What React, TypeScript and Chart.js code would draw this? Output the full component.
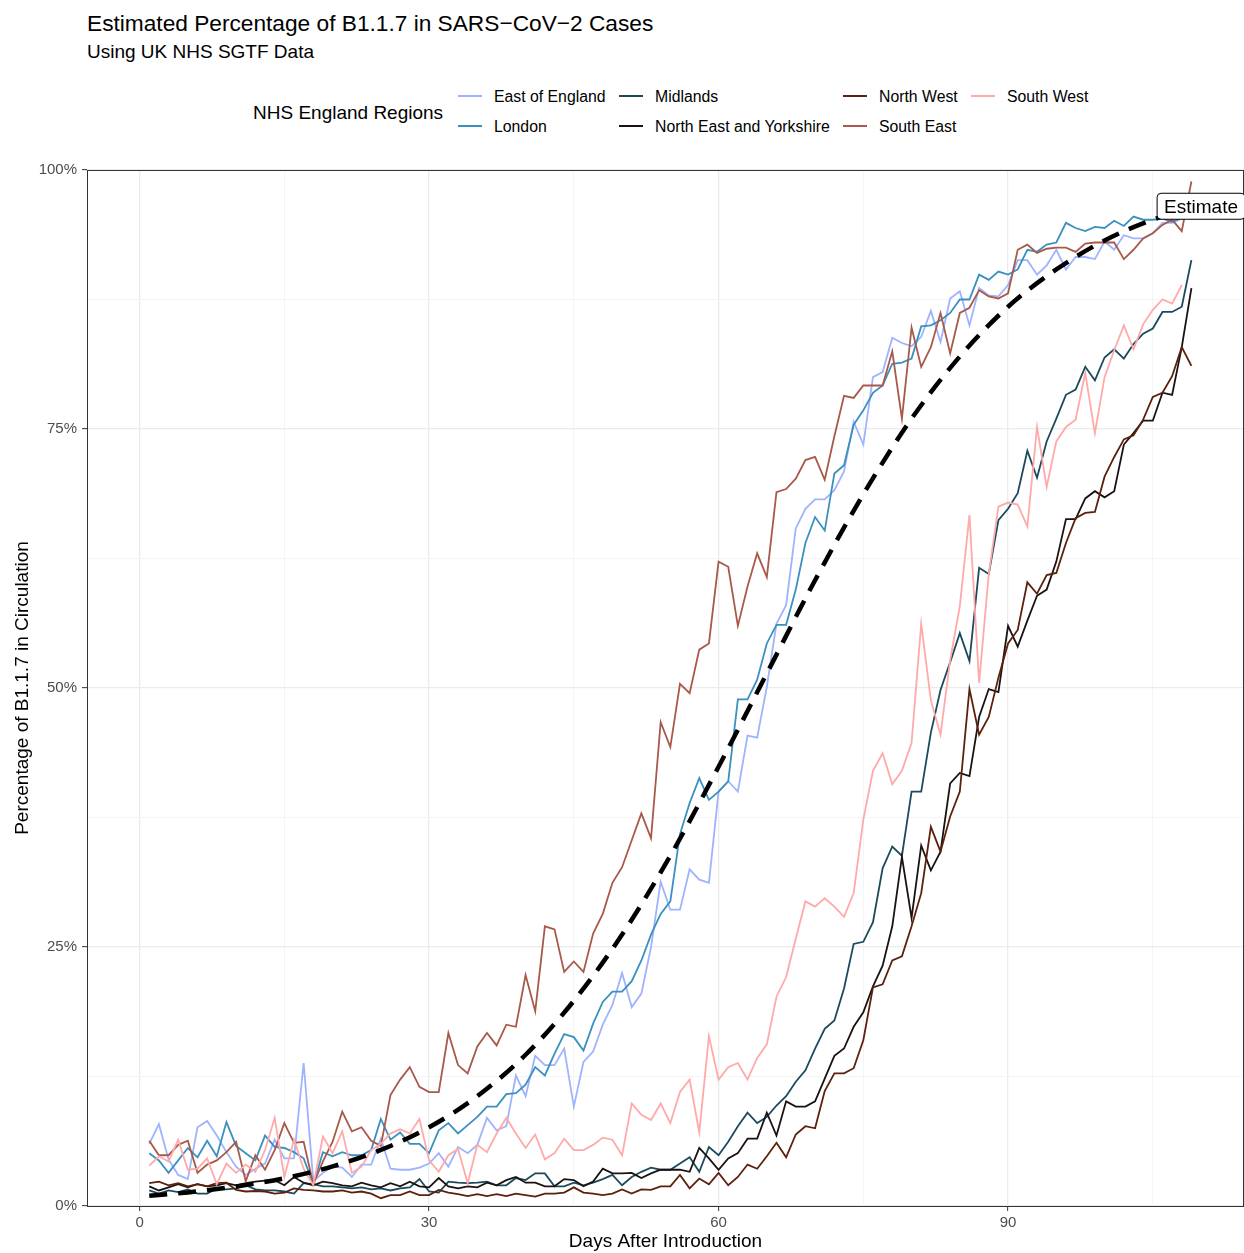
import React, { useEffect, useRef } from 'react';
import { Chart, registerables } from 'chart.js';

Chart.register(...registerables);

const FONT = '"Liberation Sans", Arial, Helvetica, sans-serif';

const titleText = 'Estimated Percentage of B1.1.7 in SARS\u2212CoV\u22122 Cases';
const subtitleText = 'Using UK NHS SGTF Data';
const legendTitle = 'NHS England Regions';
const xTitle = 'Days After Introduction';
const yTitle = 'Percentage of B1.1.7 in Circulation';

const firstDay = 1;
const xMajorTicks = [0, 30, 60, 90];
const xMinorTicks = [15, 45, 75, 105];
const yMajorTicks = [0, 25, 50, 75, 100];
const yMinorTicks = [12.5, 37.5, 62.5, 87.5];

const eastOfEngland = [
  6.0, 7.9, 4.5, 3.0, 2.6, 7.6, 8.2, 6.8, 5.2, 3.8,
  3.0, 3.6, 4.1, 6.4, 4.6, 4.6, 13.8, 2.4, 3.2, 3.8,
  3.7, 2.8, 4.0, 4.0, 6.5, 3.6, 3.5, 3.5, 3.7, 4.1,
  5.1, 3.8, 5.7, 5.1, 5.9, 8.5, 7.3, 7.7, 12.6, 10.6,
  14.5, 13.6, 13.6, 15.2, 9.6, 13.9, 14.9, 17.5, 19.4, 22.5,
  19.2, 20.5, 25.0, 31.3, 28.6, 28.6, 32.5, 31.5, 31.2, 40.0,
  41.0, 40.0, 45.4, 45.2, 50.1, 56.2, 58.0, 65.4, 67.3, 68.2,
  68.2, 69.1, 70.9, 75.7, 73.5, 80.0, 80.5, 83.8, 83.3, 83.0,
  83.9, 86.4, 83.4, 87.6, 88.3, 85.0, 88.6, 87.9, 87.8, 88.9,
  91.3, 91.3, 89.9, 90.8, 92.3, 90.4, 91.6, 91.6, 91.4, 93.1,
  92.3, 93.7, 93.4, 93.4, 93.9, 94.9, 94.9, 95.3,
];

const london = [
  5.1, 4.4, 3.2, 4.4, 5.6, 4.7, 6.3, 4.8, 8.1, 5.8,
  5.1, 4.4, 6.8, 5.7, 5.6, 5.2, 4.6, 2.1, 5.2, 4.8,
  5.2, 4.9, 4.9, 5.4, 8.4, 6.4, 7.1, 6.0, 6.0, 5.1,
  7.3, 8.0, 7.0, 7.8, 8.6, 9.6, 9.6, 10.8, 10.9, 11.7,
  13.4, 12.6, 14.7, 16.6, 16.3, 15.0, 17.6, 19.7, 20.7, 20.7,
  21.7, 23.7, 26.2, 28.2, 29.4, 35.9, 38.9, 41.3, 39.2, 40.0,
  41.0, 48.9, 48.9, 50.8, 54.3, 56.1, 56.1, 59.5, 64.0, 66.5,
  65.2, 70.7, 71.5, 75.4, 76.8, 78.5, 79.2, 81.3, 81.4, 81.8,
  84.9, 85.0, 85.5, 86.2, 87.5, 87.5, 89.9, 89.4, 90.2, 89.9,
  90.4, 92.3, 92.1, 92.8, 93.0, 94.9, 94.4, 94.1, 94.5, 94.4,
  95.1, 94.6, 95.5, 95.2, 95.2, 95.3, 95.0, 95.4,
];

const midlands = [
  1.5, 1.2, 1.5, 1.35, 1.6, 1.2, 1.2, 1.7, 1.6, 1.7,
  2.0, 1.6, 1.5, 1.5, 1.4, 1.2, 2.2, 2.1, 1.9, 1.9,
  1.8, 1.7, 1.8, 1.6, 1.7, 1.5, 1.7, 1.8, 2.6, 1.4,
  1.3, 2.35, 2.25, 2.2, 2.25, 2.35, 2.0, 2.0, 2.7, 2.5,
  3.15, 3.15, 1.9, 1.9, 2.25, 2.0, 2.25, 2.6, 3.0, 2.0,
  2.8, 3.3, 3.7, 3.5, 3.5, 4.1, 4.7, 3.3, 5.7, 4.9,
  6.2, 7.7, 9.0, 8.0, 8.6, 9.7, 10.6, 12.0, 13.1, 15.2,
  17.1, 17.9, 21.0, 25.3, 25.5, 27.4, 32.6, 34.7, 33.8, 40.0,
  40.0, 45.7, 49.8, 52.5, 55.3, 52.6, 61.6, 61.0, 66.2, 67.3,
  68.8, 72.9, 70.3, 73.8, 76.0, 78.3, 78.8, 81.0, 79.7, 81.9,
  82.7, 81.8, 83.2, 84.2, 84.7, 86.3, 86.3, 86.8, 91.3,
];

const northEastYorkshire = [
  1.9, 1.5, 1.8, 2.1, 1.8, 2.1, 1.9, 2.0, 2.2, 2.0,
  2.2, 2.35, 2.45, 2.5, 2.0, 2.8, 2.25, 2.0, 2.35, 2.2,
  2.0, 1.9, 2.25, 2.0, 1.8, 2.2, 1.9, 2.35, 1.9, 1.8,
  2.7, 1.9, 1.7, 1.9, 1.8, 2.25, 2.0, 2.5, 2.8, 2.25,
  2.25, 1.9, 1.9, 2.6, 2.5, 1.9, 2.35, 3.6, 3.15, 3.15,
  3.2, 2.7, 3.15, 3.5, 3.5, 3.5, 3.3, 5.6, 4.6, 3.5,
  4.6, 5.1, 6.5, 6.5, 9.0, 6.8, 10.1, 9.6, 9.6, 10.1,
  12.3, 14.5, 15.2, 17.3, 18.7, 21.2, 23.2, 27.0, 33.7, 27.8,
  34.8, 32.4, 34.2, 40.8, 41.8, 41.5, 47.2, 49.9, 49.6, 56.0,
  54.0, 56.5, 58.9, 59.5, 62.2, 66.3, 66.3, 68.3, 69.0, 68.4,
  69.0, 73.5, 74.6, 75.8, 75.8, 78.5, 78.3, 82.9, 88.6,
];

const northWest = [
  2.2, 2.35, 2.0, 2.2, 1.9, 2.1, 1.9, 2.2, 2.25, 1.55,
  1.4, 1.45, 1.4, 1.2, 1.3, 1.7, 1.55, 1.5, 1.4, 1.4,
  1.5, 1.3, 1.4, 1.2, 0.75, 1.05, 1.05, 1.4, 1.05, 1.05,
  1.55, 1.3, 1.15, 0.95, 1.15, 0.95, 1.15, 0.95, 1.2, 1.05,
  0.9, 1.2, 1.2, 1.3, 1.8, 1.3, 1.2, 1.05, 1.2, 1.6,
  1.2, 1.6, 1.55, 1.9, 1.9, 3.0, 1.7, 2.65, 2.1, 3.2,
  2.0, 2.8, 4.0, 3.6, 4.8, 6.1, 4.7, 6.9, 7.7, 7.5,
  11.1, 12.8, 12.8, 13.3, 16.0, 21.1, 21.4, 23.7, 24.1, 27.0,
  30.2, 36.6, 34.2, 37.6, 40.0, 49.9, 45.5, 47.2, 51.0, 54.3,
  55.6, 60.2, 59.1, 60.9, 61.1, 64.0, 66.4, 66.9, 67.0, 70.4,
  72.3, 74.0, 74.4, 75.9, 78.1, 78.5, 80.1, 82.9, 81.1,
];

const southEast = [
  6.3, 4.9, 4.9, 5.9, 6.3, 3.2, 4.0, 4.4, 5.2, 6.2,
  2.4, 4.9, 3.5, 5.4, 8.0, 6.1, 6.2, 2.1, 4.3, 6.2,
  9.1, 7.2, 7.6, 6.3, 5.8, 10.7, 12.2, 13.4, 11.5, 11.0,
  11.0, 16.7, 13.6, 12.8, 15.4, 16.7, 15.5, 17.5, 17.3, 22.3,
  18.8, 27.0, 26.7, 22.6, 23.6, 22.6, 26.3, 28.2, 31.2, 32.7,
  35.3, 37.9, 35.5, 46.7, 44.3, 50.4, 49.5, 53.7, 54.3, 62.2,
  61.7, 56.0, 59.8, 63.0, 60.7, 68.9, 69.2, 70.2, 72.0, 72.3,
  70.1, 74.3, 78.2, 78.0, 79.2, 79.2, 79.2, 82.5, 76.0, 84.8,
  81.0, 82.9, 86.2, 82.3, 86.2, 86.7, 88.4, 87.8, 87.6, 88.1,
  92.3, 92.8, 92.0, 92.4, 92.5, 92.5, 92.1, 92.9, 93.0, 93.0,
  93.0, 91.4, 92.3, 93.4, 93.9, 94.7, 95.2, 94.1, 98.9,
];

const southWest = [
  3.9, 4.8, 4.3, 6.4, 3.5, 3.6, 4.6, 2.1, 4.1, 3.2,
  4.0, 3.3, 5.4, 8.5, 2.8, 6.4, 3.6, 2.0, 6.7, 5.1,
  7.2, 3.2, 3.8, 5.4, 6.0, 7.0, 7.4, 7.0, 8.4, 4.4,
  3.3, 4.9, 5.5, 2.2, 5.9, 5.2, 7.0, 8.5, 7.0, 5.6,
  6.9, 4.5, 5.1, 6.5, 5.4, 5.4, 5.9, 6.6, 6.4, 4.9,
  9.9, 8.8, 8.3, 9.9, 8.0, 11.0, 12.2, 7.1, 16.4, 12.2,
  13.4, 13.8, 12.2, 14.3, 15.6, 20.2, 22.1, 25.8, 29.4, 28.9,
  29.7, 28.9, 27.9, 30.2, 37.3, 42.0, 43.7, 40.7, 42.0, 44.7,
  56.2, 48.8, 45.5, 52.7, 57.9, 66.7, 50.5, 61.0, 67.5, 67.9,
  67.7, 65.6, 75.2, 69.4, 73.8, 75.2, 75.9, 80.4, 74.6, 80.0,
  82.6, 85.0, 82.7, 85.1, 86.5, 87.5, 87.1, 88.9,
];

const estimateDays = [1, 5, 10, 15, 20, 25, 30, 35, 40, 45, 50, 55, 60, 65, 70, 75, 80, 85, 90, 95, 100, 105, 109];
const estimateValues = [0.98, 1.31, 1.88, 2.68, 3.82, 5.41, 7.6, 10.6, 14.6, 19.8, 26.2, 33.8, 42.4, 51.4, 60.4, 68.7, 76.0, 82.0, 86.8, 90.4, 93.2, 95.2, 96.3];
const estimateLabel = 'Estimate';
const estimateLabelDay = 110;
const estimateLabelValue = 96.5;

const regionNames = [
  'East of England',
  'London',
  'Midlands',
  'North East and Yorkshire',
  'North West',
  'South East',
  'South West',
];
const regionColors = ['#9FB3FF', '#3A90BF', '#1C4A5D', '#1C1212', '#5C210C', '#A8594A', '#FFA9A9'];
const regionSeries = [eastOfEngland, london, midlands, northEastYorkshire, northWest, southEast, southWest];

// legend layout: columns (filled by column, two rows)
const legendCols = [
  { keyX: 458, textX: 494 },
  { keyX: 619, textX: 655 },
  { keyX: 843, textX: 879 },
  { keyX: 971, textX: 1007 },
];
const legendRows = [97, 127];

const frameAndLabelPlugin = {
  id: 'frameAndLabel',
  afterDatasetsDraw(chart: any) {
    const { ctx, chartArea, scales } = chart;
    ctx.save();
    ctx.strokeStyle = '#333333';
    ctx.lineWidth = 1;
    ctx.strokeRect(chartArea.left + 0.5, chartArea.top + 0.5, chartArea.right - chartArea.left - 1, chartArea.bottom - chartArea.top);
    // Estimate label
    const cx = scales.x.getPixelForValue(estimateLabelDay);
    const cy = scales.y.getPixelForValue(estimateLabelValue);
    ctx.font = `19px ${FONT}`;
    const tw = ctx.measureText(estimateLabel).width;
    const padX = 7;
    const h = 26;
    const w = tw + padX * 2;
    const left = cx - w / 2;
    const top = cy - h / 2;
    const r = 4;
    ctx.beginPath();
    ctx.moveTo(left + r, top);
    ctx.lineTo(left + w - r, top);
    ctx.quadraticCurveTo(left + w, top, left + w, top + r);
    ctx.lineTo(left + w, top + h - r);
    ctx.quadraticCurveTo(left + w, top + h, left + w - r, top + h);
    ctx.lineTo(left + r, top + h);
    ctx.quadraticCurveTo(left, top + h, left, top + h - r);
    ctx.lineTo(left, top + r);
    ctx.quadraticCurveTo(left, top, left + r, top);
    ctx.closePath();
    ctx.fillStyle = '#ffffff';
    ctx.fill();
    ctx.strokeStyle = '#000000';
    ctx.lineWidth = 1;
    ctx.stroke();
    ctx.fillStyle = '#000000';
    ctx.textAlign = 'left';
    ctx.textBaseline = 'middle';
    ctx.fillText(estimateLabel, left + padX, cy + 1.5);
    ctx.restore();
  },
};

export default function App() {
  const canvasRef = useRef<HTMLCanvasElement | null>(null);

  useEffect(() => {
    document.body.style.margin = '0';
    const canvas = canvasRef.current;
    if (!canvas) return;

    const regionDatasets = regionSeries.map((series, i) => ({
      label: regionNames[i],
      data: series.map((v, j) => ({ x: firstDay + j, y: v })),
      borderColor: regionColors[i],
      backgroundColor: regionColors[i],
      borderWidth: 1.8,
      pointRadius: 0,
      tension: 0,
      fill: false,
      order: regionSeries.length - i,
    }));

    const estimateDataset = {
      label: 'Estimate',
      data: estimateDays.map((d, j) => ({ x: d, y: estimateValues[j] })),
      borderColor: '#000000',
      borderWidth: 4.5,
      borderDash: [18, 11],
      borderCapStyle: 'butt',
      pointRadius: 0,
      cubicInterpolationMode: 'monotone',
      fill: false,
      order: 0,
    };

    const isMajorX = (v: number) => xMajorTicks.includes(v);
    const isMajorY = (v: number) => yMajorTicks.includes(v);

    const chart = new Chart(canvas, {
      type: 'line',
      data: { datasets: [...regionDatasets, estimateDataset] as any },
      plugins: [frameAndLabelPlugin],
      options: {
        animation: false,
        responsive: false,
        maintainAspectRatio: false,
        layout: { padding: { top: 170, left: 0, right: 0, bottom: 0 } },
        plugins: { legend: { display: false }, tooltip: { enabled: false }, title: { display: false } },
        scales: {
          x: {
            type: 'linear',
            min: -5.45,
            max: 114.45,
            afterBuildTicks: (scale: any) => {
              scale.ticks = [...xMajorTicks, ...xMinorTicks].sort((a, b) => a - b).map((v) => ({ value: v }));
            },
            afterFit: (scale: any) => {
              scale.height = 47;
            },
            ticks: {
              autoSkip: false,
              maxRotation: 0,
              padding: 3,
              color: '#4D4D4D',
              font: { family: FONT, size: 15 },
              callback: (v: any) => (isMajorX(Number(v)) ? String(v) : ''),
            },
            grid: {
              color: (ctx: any) => (isMajorX(ctx.tick?.value) ? '#EBEBEB' : '#F4F4F4'),
              lineWidth: (ctx: any) => (isMajorX(ctx.tick?.value) ? 1.3 : 1),
              tickColor: (ctx: any) => (isMajorX(ctx.tick?.value) ? '#333333' : 'rgba(0,0,0,0)'),
              tickLength: 5,
              tickWidth: 1,
            },
            border: { display: false },
            title: {
              display: true,
              text: xTitle,
              color: '#000000',
              font: { family: FONT, size: 19 },
              padding: { top: 0, bottom: 0 },
            },
          },
          y: {
            type: 'linear',
            min: 0,
            max: 100,
            afterBuildTicks: (scale: any) => {
              scale.ticks = [...yMajorTicks, ...yMinorTicks].sort((a, b) => a - b).map((v) => ({ value: v }));
            },
            afterFit: (scale: any) => {
              scale.width = 87;
            },
            ticks: {
              autoSkip: false,
              padding: 5,
              color: '#4D4D4D',
              font: { family: FONT, size: 15 },
              callback: (v: any) => (isMajorY(Number(v)) ? `${v}%` : ''),
            },
            grid: {
              color: (ctx: any) => (isMajorY(ctx.tick?.value) ? '#EBEBEB' : '#F4F4F4'),
              lineWidth: (ctx: any) => (isMajorY(ctx.tick?.value) ? 1.3 : 1),
              tickColor: (ctx: any) => (isMajorY(ctx.tick?.value) ? '#333333' : 'rgba(0,0,0,0)'),
              tickLength: 5,
              tickWidth: 1,
            },
            border: { display: false },
            title: {
              display: true,
              text: yTitle,
              color: '#000000',
              font: { family: FONT, size: 19 },
              padding: { top: 11, bottom: 0 },
            },
          },
        },
      } as any,
    });

    return () => chart.destroy();
  }, []);

  const legendItems = regionNames.map((name, i) => {
    const col = legendCols[Math.floor(i / 2)];
    const rowY = legendRows[i % 2];
    return (
      <React.Fragment key={name}>
        <div
          style={{
            position: 'absolute',
            left: col.keyX,
            top: rowY - 2,
            width: 24,
            height: 2,
            background: regionColors[i],
          }}
        />
        <div
          style={{
            position: 'absolute',
            left: col.textX,
            top: rowY - 10,
            height: 20,
            lineHeight: '20px',
            fontSize: 15.8,
            color: '#000',
            whiteSpace: 'nowrap',
          }}
        >
          {name}
        </div>
      </React.Fragment>
    );
  });

  return (
    <div
      style={{
        position: 'relative',
        width: 1244,
        height: 1253,
        background: '#ffffff',
        fontFamily: FONT,
        overflow: 'hidden',
      }}
    >
      <div style={{ position: 'absolute', left: 87, top: 23 - 14, lineHeight: '28px', fontSize: 22.7, color: '#000', whiteSpace: 'nowrap' }}>
        {titleText}
      </div>
      <div style={{ position: 'absolute', left: 87, top: 52 - 12, lineHeight: '24px', fontSize: 19, color: '#000', whiteSpace: 'nowrap' }}>
        {subtitleText}
      </div>
      <div style={{ position: 'absolute', left: 253, top: 113 - 12, lineHeight: '24px', fontSize: 19, color: '#000', whiteSpace: 'nowrap' }}>
        {legendTitle}
      </div>
      {legendItems}
      <canvas ref={canvasRef} width={1244} height={1253} style={{ position: 'absolute', left: 0, top: 0, width: 1244, height: 1253 }} />
    </div>
  );
}
